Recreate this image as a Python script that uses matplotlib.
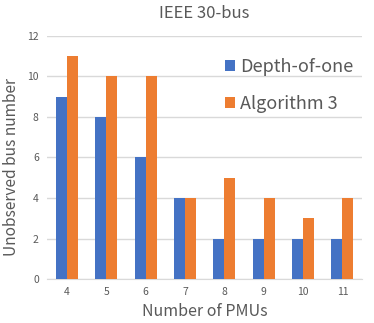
import matplotlib.pyplot as plt
import numpy as np

plt.rcParams['font.family'] = ['Noto Sans CJK SC', 'DejaVu Sans']

pmus = ['4', '5', '6', '7', '8', '9', '10', '11']
depth_of_one = [9, 8, 6, 4, 2, 2, 2, 2]
algorithm_3 = [11, 10, 10, 4, 5, 4, 3, 4]

x = np.arange(len(pmus))
w = 0.28

fig = plt.figure(figsize=(3.74, 3.23), dpi=100)
ax = fig.add_axes([0.126, 0.136, 0.842, 0.753])

ax.bar(x - w / 2, depth_of_one, w, color='#4472C4', label='Depth-of-one', zorder=3)
ax.bar(x + w / 2, algorithm_3, w, color='#ED7D31', label='Algorithm 3', zorder=3)

ax.set_xlim(-0.5, len(pmus) - 0.5)
ax.set_ylim(0, 12)
ax.set_yticks(range(0, 13, 2))
ax.set_xticks(x)
ax.set_xticklabels(pmus)
ax.grid(axis='y', color='#D9D9D9', linewidth=1, zorder=0)
for s in ['top', 'right', 'left']:
    ax.spines[s].set_visible(False)
ax.spines['bottom'].set_color('#D9D9D9')
ax.tick_params(length=0, labelsize=7.5, colors='#595959', pad=6)

ax.set_title('IEEE 30-bus', fontsize=12, color='#595959', pad=13)
ax.set_xlabel('Number of PMUs', fontsize=11.5, color='#595959', labelpad=4)
ax.set_ylabel('Unobserved bus number', fontsize=11.2, color='#595959')
ax.yaxis.set_label_coords(-0.085, 0.46)

ax.legend(loc='upper right', bbox_to_anchor=(1.025, 0.975), frameon=False,
          fontsize=13, labelcolor='#595959', handlelength=0.55, handleheight=0.55,
          handletextpad=0.3, labelspacing=1.05)

plt.savefig('out.png', dpi=100)
